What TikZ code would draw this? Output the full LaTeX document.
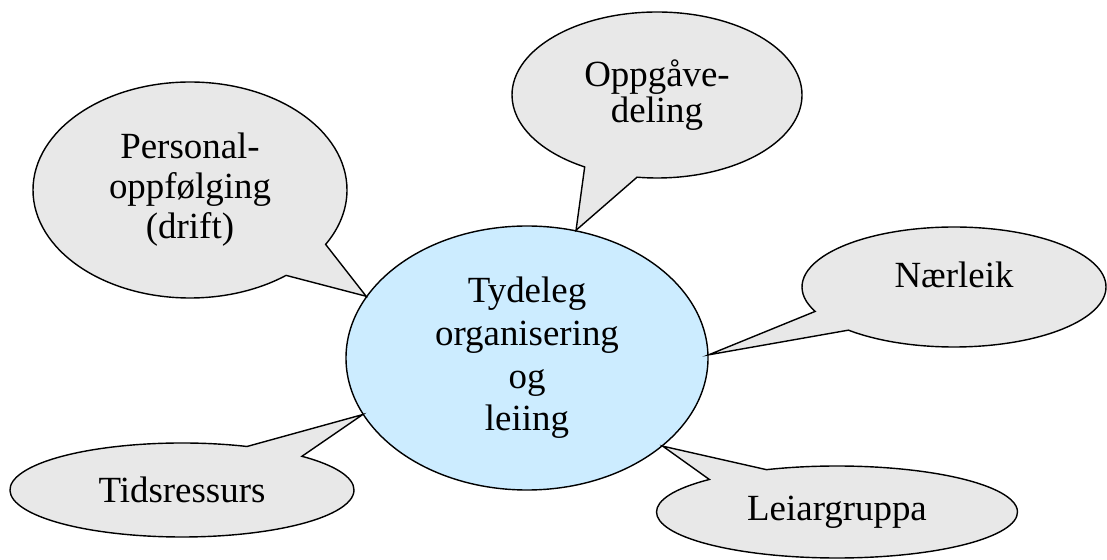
\documentclass[tikz,border=0pt]{standalone}
\usepackage{fontspec}
\setmainfont{Liberation Serif}
\usepackage{tikz}
\usetikzlibrary{shapes,shapes.callouts,positioning}
\definecolor{lyseblaa}{RGB}{204,236,255}
\definecolor{lysgraa}{RGB}{232,232,232}

\begin{document}
\begin{tikzpicture}[
    tekst/.style={font=\fontsize{21}{#1}\selectfont, align=center},
    tekst/.default=24pt,
    kjerne/.style={ellipse, draw, line width=0.8pt, fill=lyseblaa, inner sep=0pt,
      minimum width=7.24cm, minimum height=5.28cm},
    boble/.style={ellipse callout, draw, line width=0.8pt, fill=lysgraa, inner sep=0pt,
      callout pointer arc=22}
  ]
      \useasboundingbox (0,0) rectangle (22.14,11.2);

      \node[kjerne, tekst=24.3pt] (tydeleg) at (10.54,4.04) {Tydeleg\\organisering\\og\\leiing};

      \node[boble, tekst=22.7pt, minimum width=6.28cm, minimum height=4.32cm,
        callout absolute pointer={(tydeleg.159)}] (personal) at (3.80,7.40) {Personal-\\oppfølging\\(drift)};
      \node[boble, tekst=20.5pt, minimum width=5.80cm, minimum height=3.32cm,
        callout absolute pointer={(tydeleg.69)}] (oppgave) at (13.14,9.30) {Oppgåve-\\deling};
      \node[boble, tekst, minimum width=6.08cm, minimum height=2.40cm, text depth=0.48cm,
        callout absolute pointer={(tydeleg.1)}] (naerleik) at (19.08,5.46) {Nærleik};
      \node[boble, tekst, minimum width=6.88cm, minimum height=1.88cm,
        callout absolute pointer={(tydeleg.199)}] (tid) at (3.64,1.40) {Tidsressurs};
      \node[boble, tekst, minimum width=7.22cm, minimum height=1.84cm,
        callout absolute pointer={(tydeleg.327)}] (leiar) at (16.74,0.96) {Leiargruppa};
\end{tikzpicture}
\end{document}
